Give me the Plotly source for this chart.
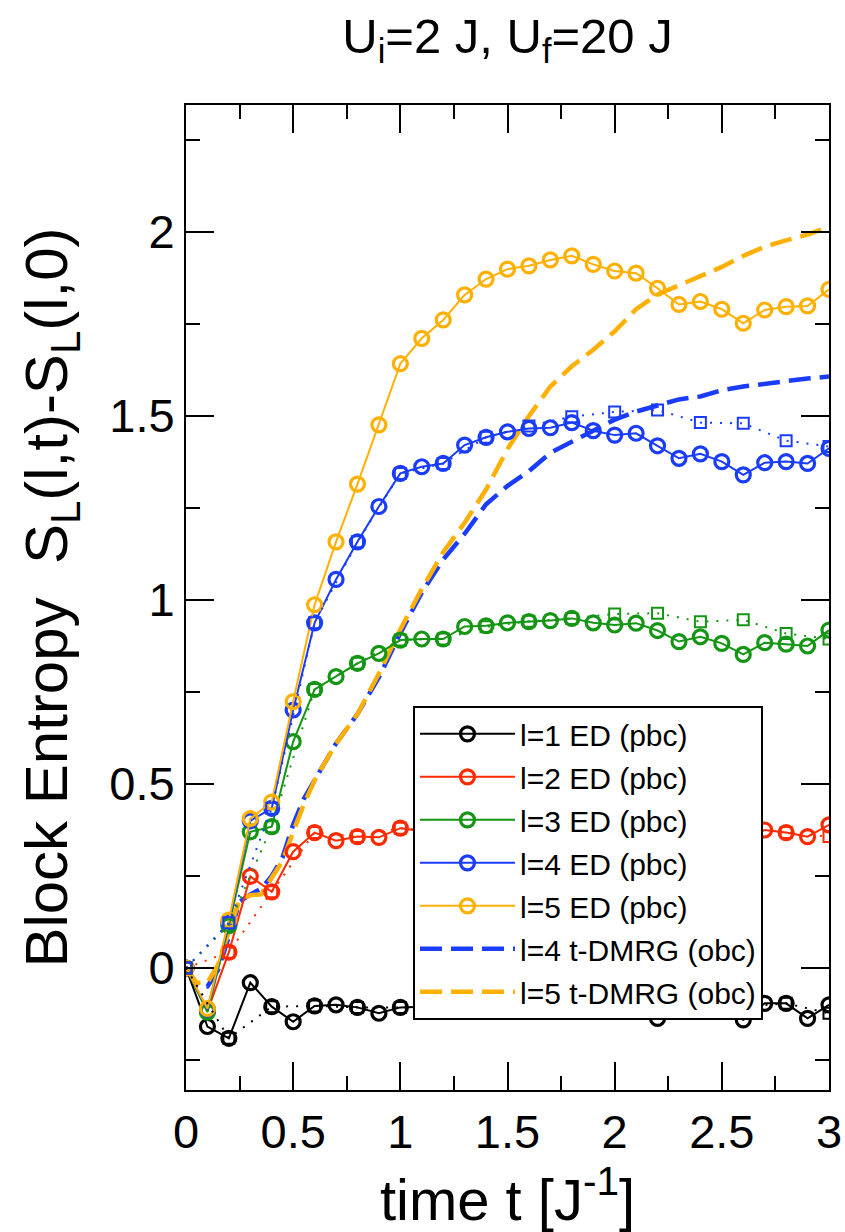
import plotly.graph_objects as go

FONT = "Liberation Sans, Arial, Helvetica, sans-serif"

# ED (pbc) time grid and values
t_ed = [round(0.1 * i, 1) for i in range(31)]
s_l1 = [0, -0.159, -0.191, -0.040, -0.105, -0.146, -0.103, -0.100, -0.107, -0.123, -0.107,
        -0.105, -0.110, -0.100, -0.105, -0.100, -0.100, -0.098, -0.095, -0.105, -0.110,
        -0.100, -0.137, -0.110, -0.105, -0.115, -0.141, -0.096, -0.096, -0.137, -0.100]
s_l2 = [0, -0.117, 0.043, 0.249, 0.207, 0.316, 0.368, 0.346, 0.357, 0.355, 0.380,
        0.372, 0.370, 0.385, 0.380, 0.383, 0.385, 0.386, 0.390, 0.383, 0.380,
        0.382, 0.370, 0.360, 0.365, 0.360, 0.350, 0.375, 0.368, 0.357, 0.389]
s_l3 = [0, -0.120, 0.115, 0.370, 0.384, 0.615, 0.757, 0.792, 0.828, 0.855, 0.891,
        0.894, 0.894, 0.928, 0.930, 0.938, 0.941, 0.944, 0.950, 0.938, 0.932,
        0.937, 0.917, 0.887, 0.900, 0.882, 0.852, 0.884, 0.880, 0.875, 0.918]
s_l4 = [0, -0.112, 0.122, 0.400, 0.434, 0.701, 0.938, 1.056, 1.158, 1.254, 1.344,
        1.362, 1.371, 1.421, 1.442, 1.457, 1.466, 1.468, 1.482, 1.460, 1.448,
        1.453, 1.419, 1.385, 1.397, 1.376, 1.340, 1.373, 1.376, 1.371, 1.412]
s_l5 = [0, -0.110, 0.130, 0.406, 0.451, 0.724, 0.987, 1.158, 1.315, 1.476, 1.642,
        1.711, 1.761, 1.829, 1.872, 1.899, 1.908, 1.924, 1.935, 1.912, 1.894,
        1.888, 1.847, 1.803, 1.811, 1.790, 1.752, 1.788, 1.797, 1.799, 1.844]

# second ED data set (squares, dotted)
t_sq = [round(0.2 * i, 1) for i in range(16)]
q_l1 = [0, -0.191, -0.105, -0.103, -0.107, -0.107, -0.110, -0.105, -0.100, -0.095,
        -0.100, -0.110, -0.100, -0.105, -0.096, -0.123]
q_l2 = [0, 0.043, 0.207, 0.368, 0.357, 0.380, 0.370, 0.380, 0.386, 0.392,
        0.390, 0.388, 0.380, 0.378, 0.368, 0.357]
q_l3 = [0, 0.117, 0.384, 0.757, 0.828, 0.891, 0.894, 0.927, 0.942, 0.950,
        0.962, 0.964, 0.941, 0.946, 0.909, 0.894]
q_l4 = [0, 0.123, 0.434, 0.938, 1.158, 1.344, 1.371, 1.442, 1.473, 1.498,
        1.511, 1.516, 1.482, 1.480, 1.433, 1.417]

# t-DMRG (obc)
t_dm = [0, 0.05, 0.1, 0.15, 0.2, 0.25, 0.3, 0.35, 0.4, 0.45, 0.5, 0.55, 0.6,
        0.7, 0.8, 0.9, 1.0, 1.1, 1.2, 1.3, 1.4, 1.5, 1.6, 1.7, 1.8, 1.9, 2.0,
        2.1, 2.2, 2.3, 2.4, 2.5, 2.6, 2.7, 2.8, 2.9, 3.0]
d_l4 = [0, -0.05, -0.05, -0.005, 0.085, 0.18, 0.20, 0.215, 0.25, 0.30, 0.39, 0.46, 0.51,
        0.61, 0.69, 0.79, 0.91, 1.02, 1.11, 1.18, 1.26, 1.31, 1.35, 1.40, 1.43, 1.46, 1.49,
        1.512, 1.53, 1.545, 1.553, 1.57, 1.58, 1.588, 1.597, 1.602, 1.607]
d_l5 = [0, -0.04, -0.04, 0.01, 0.10, 0.185, 0.198, 0.20, 0.245, 0.29, 0.37, 0.445, 0.51,
        0.61, 0.69, 0.80, 0.92, 1.03, 1.13, 1.21, 1.30, 1.41, 1.50, 1.58, 1.635, 1.68, 1.73,
        1.79, 1.83, 1.855, 1.88, 1.905, 1.935, 1.96, 1.977, 1.993, 2.014]

BLACK, RED, GREEN, BLUE, ORANGE = "#000000", "#ff2a00", "#149614", "#1a3cff", "#ffb000"

fig = go.Figure()

# DMRG dashed lines (drawn underneath)
for name, y, col, rank in [("l=4 t-DMRG (obc)", d_l4, BLUE, 6),
                           ("l=5 t-DMRG (obc)", d_l5, ORANGE, 7)]:
    fig.add_trace(go.Scatter(x=t_dm, y=y, mode="lines", name=name,
                             line=dict(color=col, width=4.5, dash="22px,9px"),
                             legendgroup=name, legendrank=rank))

# ED pbc circles
for i, (y, col) in enumerate([(s_l1, BLACK), (s_l2, RED), (s_l3, GREEN),
                              (s_l4, BLUE), (s_l5, ORANGE)]):
    name = f"l={i+1} ED (pbc)"
    fig.add_trace(go.Scatter(x=t_ed, y=y, mode="lines+markers", name=name,
                             line=dict(color=col, width=2),
                             marker=dict(symbol="circle-open", size=14, color=col,
                                         line=dict(color=col, width=3.2)),
                             legendgroup=name, legendrank=i + 1))

# squares, dotted
for y, col in [(q_l1, BLACK), (q_l2, RED), (q_l3, GREEN), (q_l4, BLUE)]:
    fig.add_trace(go.Scatter(x=t_sq, y=y, mode="lines+markers", showlegend=False,
                             line=dict(color=col, width=2, dash="2px,8px"),
                             marker=dict(symbol="square-open", size=11, color=col,
                                         line=dict(color=col, width=2))))

axis_common = dict(
    showline=True, linewidth=2, linecolor="black", mirror="ticks",
    ticks="inside", ticklen=28, tickwidth=2, tickcolor="black",
    showgrid=False, zeroline=False, automargin=False,
    tickfont=dict(family=FONT, size=47, color="black"),
    minor=dict(ticks="inside", ticklen=14, tickwidth=2, tickcolor="black",
               dtick=0.25, showgrid=False),
)

fig.update_layout(
    width=845, height=1232,
    margin=dict(l=186, r=16, t=105, b=142),
    paper_bgcolor="white", plot_bgcolor="white",
    font=dict(family=FONT, color="black"),
    title=dict(text="U<sub>i</sub>=2 J, U<sub>f</sub>=20 J",
               font=dict(family=FONT, size=49, color="black"),
               x=0.5, xref="paper", xanchor="center",
               y=1 - 36 / 1232, yref="container", yanchor="middle"),
    xaxis=dict(range=[0, 3], tick0=0, dtick=0.5,
               title=dict(text="time t [J<sup>-1</sup>]",
                          font=dict(family=FONT, size=58, color="black"),
                          standoff=20),
               **axis_common),
    yaxis=dict(range=[-0.3315, 2.345], tick0=0, dtick=0.5,
               title=dict(text="Block Entropy\u00a0 S<sub>L</sub>(l,t)-S<sub>L</sub>(l,0)",
                          font=dict(family=FONT, size=60, color="black"),
                          standoff=22),
               **axis_common),
    legend=dict(x=0.353, y=0.39, xanchor="left", yanchor="top",
                bgcolor="white", bordercolor="black", borderwidth=2,
                font=dict(family=FONT, size=30, color="black"),
                itemwidth=95, tracegroupgap=1, traceorder="grouped"),
    showlegend=True,
)

fig.write_html("out.html", config={"displayModeBar": False},
               post_script="document.body.style.margin='0';document.body.style.padding='0';")
